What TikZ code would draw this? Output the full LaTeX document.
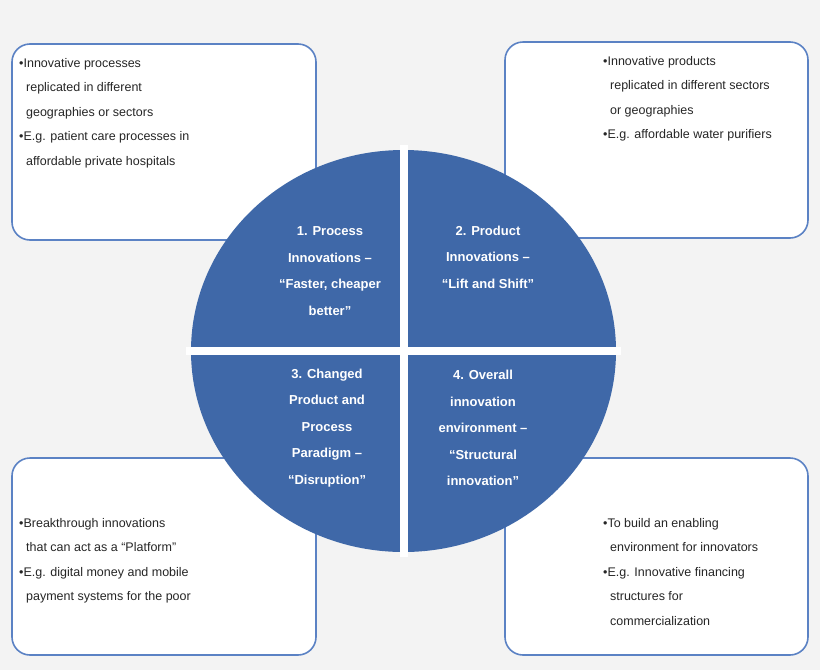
\documentclass[tikz,border=0pt]{standalone}
\usepackage{fontspec}
\setmainfont{Liberation Sans}
\begin{document}
\begin{tikzpicture}[x=1pt,y=-1pt,
  box/.style={draw=boxblue,line width=1.6pt,fill=white,rounded corners=18pt},
  btxt/.style={anchor=north west,align=left,inner sep=0pt,font=\fontsize{12.5}{24.5}\selectfont,text=black!85},
  qtxt/.style={align=center,text=white,font=\bfseries\fontsize{13}{26.5}\selectfont}]
\definecolor{boxblue}{HTML}{5B82C4}
\definecolor{qblue}{HTML}{3F68A8}
\definecolor{bg}{HTML}{F3F3F3}
\fill[bg] (0,0) rectangle (820,670);
\useasboundingbox (0,0) rectangle (820,670);
\draw[box] (12,44) rectangle (316,240);
\draw[box] (505,42) rectangle (808,238);
\draw[box] (12,458) rectangle (316,655);
\draw[box] (505,458) rectangle (808,655);
\node[btxt] (t1) at (19,58) {•Innovative processes\\\ \ replicated in different\\\ \ geographies or sectors\\•E.g. patient care processes in\\\ \ affordable private hospitals};
\node[btxt] (t2) at (603,56) {•Innovative products\\\ \ replicated in different sectors\\\ \ or geographies\\•E.g. affordable water purifiers};
\node[btxt] (t3) at (19,518) {•Breakthrough innovations\\\ \ that can act as a “Platform”\\•E.g. digital money and mobile\\\ \ payment systems for the poor};
\node[btxt] (t4) at (603,518) {•To build an enabling\\\ \ environment for innovators\\•E.g. Innovative financing\\\ \ structures for\\\ \ commercialization};
\fill[qblue] (403.5,351) ellipse [x radius=212.5, y radius=201];
\fill[white] (399.5,145) rectangle (407.5,557);
\fill[white] (186,347) rectangle (621,355);
\node[qtxt] (q1) at (330,271) {1. Process\\Innovations –\\“Faster, cheaper\\better”};
\node[qtxt] (q2) at (488,257) {2. Product\\Innovations –\\“Lift and Shift”};
\node[qtxt] (q3) at (327,428) {3. Changed\\Product and\\Process\\Paradigm –\\“Disruption”};
\node[qtxt] (q4) at (483,428) {4. Overall\\innovation\\environment –\\“Structural\\innovation”};
\end{tikzpicture}
\end{document}
